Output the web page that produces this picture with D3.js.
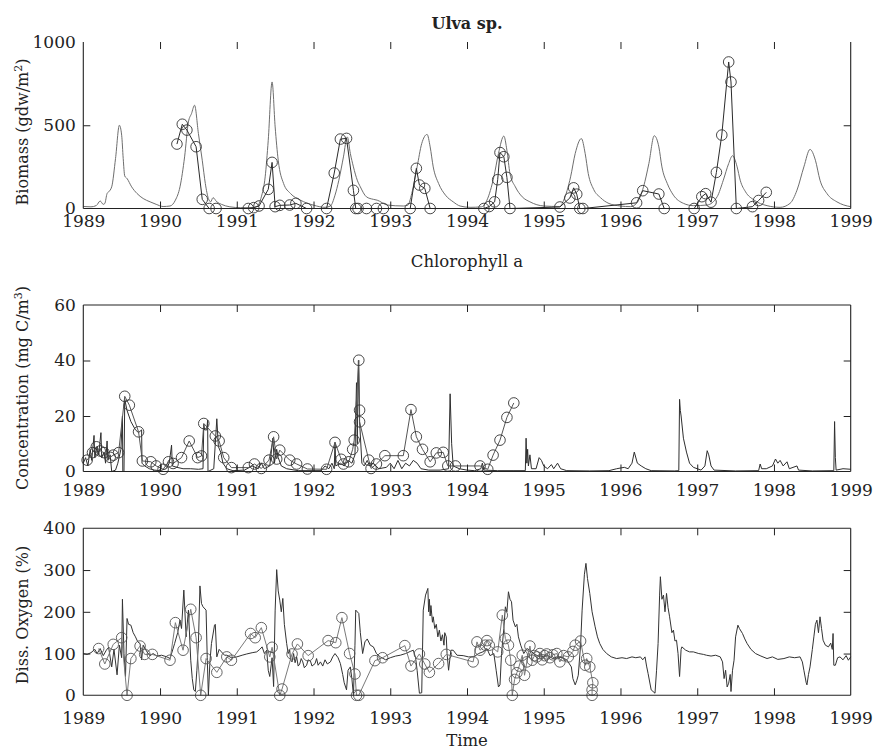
<!DOCTYPE html>
<html>
<head>
<meta charset="utf-8">
<script src="https://cdn.jsdelivr.net/npm/d3@7"></script>
<style>
  html, body { margin: 0; padding: 0; background: #fff; }
  svg text { font-family: "DejaVu Serif", "Liberation Serif", serif; fill: #222; }
</style>
</head>
<body>
<svg id="chart" width="874" height="755"></svg>
<script>
// ---------------- DATA ----------------
const years = [1989, 1990, 1991, 1992, 1993, 1994, 1995, 1996, 1997, 1998, 1999];
const panelTitles = ["Ulva sp.", "Chlorophyll a", "Time"];
const yLabels = ["Biomass (gdw/m", "Concentration (mg C/m", "Diss. Oxygen (%)"];
const biomassTicks = [0, 500, 1000];
const chlTicks = [0, 20, 40, 60];
const doTicks = [0, 100, 200, 300, 400];

// Panel 1: Ulva biomass, model (line) [year, gdw/m2]
const biomassModel = [
 [1989.00,12],[1989.10,10],[1989.17,18],[1989.22,45],[1989.26,25],[1989.28,30],[1989.31,90],[1989.33,100],
 [1989.37,130],[1989.42,300],[1989.47,500],[1989.50,440],[1989.52,300],[1989.54,195],[1989.57,180],[1989.63,130],
 [1989.70,90],[1989.78,60],[1989.87,40],[1989.95,25],[1990.04,12],[1990.13,15],[1990.20,50],[1990.26,130],
 [1990.32,310],[1990.37,520],[1990.41,570],[1990.45,620],[1990.50,450],[1990.55,290],[1990.59,150],[1990.63,60],
 [1990.66,40],[1990.69,65],[1990.74,40],[1990.80,25],[1990.91,10],[1991.05,5],[1991.20,5],[1991.27,15],
 [1991.32,70],[1991.37,190],[1991.41,410],[1991.46,760],[1991.50,490],[1991.54,290],[1991.61,150],[1991.70,90],
 [1991.83,50],[1992.00,20],[1992.15,7],[1992.22,15],[1992.28,80],[1992.33,170],[1992.39,310],[1992.44,430],
 [1992.48,330],[1992.52,250],[1992.57,170],[1992.61,130],[1992.69,70],[1992.78,55],[1992.83,50],[1992.96,21],
 [1993.17,15],[1993.23,20],[1993.28,90],[1993.35,250],[1993.41,390],[1993.48,445],[1993.52,370],[1993.56,250],
 [1993.63,150],[1993.72,80],[1993.82,40],[1993.91,15],[1994.04,7],[1994.19,10],[1994.26,50],[1994.35,190],
 [1994.41,330],[1994.48,435],[1994.52,350],[1994.56,210],[1994.63,130],[1994.72,70],[1994.82,40],[1995.00,15],
 [1995.21,12],[1995.26,50],[1995.35,190],[1995.41,330],[1995.49,420],[1995.54,330],[1995.58,210],[1995.65,115],
 [1995.74,65],[1995.85,30],[1996.00,15],[1996.13,11],[1996.21,31],[1996.30,130],[1996.37,270],[1996.44,437],
 [1996.50,370],[1996.54,250],[1996.61,150],[1996.69,80],[1996.82,31],[1996.95,17],[1997.13,21],[1997.26,71],
 [1997.34,170],[1997.41,270],[1997.46,317],[1997.52,250],[1997.56,170],[1997.63,100],[1997.74,51],[1997.91,17],
 [1998.08,7],[1998.21,31],[1998.30,110],[1998.39,250],[1998.47,355],[1998.54,290],[1998.60,170],[1998.69,90],
 [1998.82,40],[1998.91,21],[1999.00,11]
];
// Panel 1: observed biomass (circles)
const biomassObs = [
 [1990.22,387],[1990.29,506],[1990.35,471],[1990.47,371],[1990.55,55],[1990.64,0],[1990.73,0],[1991.15,0],
 [1991.22,5],[1991.29,15],[1991.41,115],[1991.46,277],[1991.50,11],[1991.56,19],[1991.69,21],[1991.77,31],
 [1991.91,0],[1992.17,0],[1992.27,213],[1992.35,417],[1992.43,421],[1992.52,109],[1992.55,0],[1992.58,0],
 [1992.69,0],[1992.82,0],[1992.91,0],[1993.26,0],[1993.34,241],[1993.38,141],[1993.45,121],[1993.52,0],
 [1994.22,0],[1994.29,12],[1994.36,40],[1994.40,173],[1994.43,336],[1994.48,311],[1994.52,187],[1994.56,0],
 [1995.21,9],[1995.34,63],[1995.39,124],[1995.43,86],[1995.47,0],[1995.51,0],[1996.21,34],[1996.29,107],
 [1996.50,87],[1996.57,0],[1996.96,0],[1997.06,71],[1997.11,89],[1997.18,38],[1997.25,217],[1997.32,441],
 [1997.41,880],[1997.44,760],[1997.51,0],[1997.72,11],[1997.80,48],[1997.90,97]
];

// Panel 2: chlorophyll a, model (line) [year, mg C/m3]
const chlModel = [
 [1989.00,3],[1989.03,5],[1989.06,2],[1989.09,8],[1989.11,4],[1989.14,13],[1989.15,5],[1989.18,9],[1989.20,6],
 [1989.23,14],[1989.24,5],[1989.27,7],[1989.29,3],[1989.31,11],[1989.32,4],[1989.35,6],[1989.37,0],[1989.42,0.5],
 [1989.45,3],[1989.49,8],[1989.51,20],[1989.515,0],[1989.53,0],[1989.54,26],[1989.57,22],[1989.62,18],[1989.68,15],
 [1989.72,14],[1989.76,15],[1989.765,3],[1989.80,2],[1989.86,1],[1989.93,0.5],[1990.00,0.3],[1990.08,1],[1990.12,3],
 [1990.15,9.5],[1990.16,2],[1990.22,1.5],[1990.30,1],[1990.40,1],[1990.50,0.8],[1990.56,1],[1990.57,17],[1990.58,15],
 [1990.61,15],[1990.62,18.5],[1990.625,0],[1990.70,1],[1990.74,19],[1990.76,9],[1990.79,7],[1990.82,3],[1990.87,1],
 [1990.95,0.3],[1991.10,0.5],[1991.20,2],[1991.28,1],[1991.32,3],[1991.36,1],[1991.43,2],[1991.47,12],[1991.49,3],
 [1991.52,8],[1991.54,5],[1991.58,2],[1991.65,1],[1991.80,0.3],[1992.10,0.3],[1992.15,2],[1992.20,1],[1992.24,3],
 [1992.27,1],[1992.28,10.5],[1992.29,2],[1992.35,3],[1992.40,2],[1992.45,4],[1992.50,3],[1992.54,6],[1992.56,32],
 [1992.57,10],[1992.585,40],[1992.60,18],[1992.63,3],[1992.66,2],[1992.70,4],[1992.73,2],[1992.78,3],[1992.85,1],
 [1992.95,1.5],[1993.00,3],[1993.05,1],[1993.10,4],[1993.15,1],[1993.20,3],[1993.25,2],[1993.30,4],[1993.35,3],
 [1993.40,1],[1993.50,0.5],[1993.65,0.5],[1993.76,1],[1993.78,28],[1993.80,10],[1993.82,2],[1993.90,1],[1994.00,0.5],
 [1994.10,0.3],[1994.18,1],[1994.20,3],[1994.22,0.5],[1994.40,0.3],[1994.60,0.3],[1994.76,0.3],[1994.77,12],
 [1994.78,3],[1994.79,8],[1994.80,2],[1994.82,6],[1994.84,1],[1994.90,1],[1994.94,5],[1994.97,4],[1995.00,2],
 [1995.05,1],[1995.10,2.5],[1995.13,1],[1995.18,3],[1995.22,1],[1995.30,0.3],[1995.60,0.2],[1995.85,0.3],[1995.95,1],
 [1996.05,1.5],[1996.10,1],[1996.15,3],[1996.18,7],[1996.22,3],[1996.27,2],[1996.33,1],[1996.40,0.3],[1996.70,0.2],
 [1996.76,0.3],[1996.77,26],[1996.78,22],[1996.79,20],[1996.82,12],[1996.86,7],[1996.90,3],[1996.95,1.5],[1997.05,0.5],
 [1997.10,2],[1997.13,7.5],[1997.15,6],[1997.18,2],[1997.22,0.5],[1997.50,0.2],[1997.80,0.3],[1997.82,2.7],[1997.84,1],
 [1997.90,1],[1997.98,2],[1998.02,4.5],[1998.05,3],[1998.08,4],[1998.12,2],[1998.17,3.5],[1998.20,1],[1998.30,2],
 [1998.32,0.5],[1998.50,0.2],[1998.78,0.3],[1998.79,18],[1998.80,5],[1998.81,0.5],[1998.90,1],[1999.00,0.8]
];
// Panel 2: observed chlorophyll a (circles)
const chlObs = [
 [1989.05,4.1],[1989.12,6.8],[1989.17,8.9],[1989.22,7.4],[1989.27,6.8],[1989.35,5.1],[1989.39,5.9],[1989.46,6.8],
 [1989.54,27.1],[1989.60,23.9],[1989.72,14.3],[1989.77,3.8],[1989.88,3.5],[1989.95,2.0],[1990.04,0.8],[1990.11,3.5],
 [1990.17,2.9],[1990.28,5.0],[1990.38,11.0],[1990.49,5.0],[1990.54,5.6],[1990.57,17.3],[1990.72,12.8],[1990.77,11],
 [1990.83,5],[1990.93,1.4],[1991.15,1.4],[1991.23,2.7],[1991.32,1.1],[1991.42,4.1],[1991.48,12.5],[1991.52,4.5],
 [1991.56,7.7],[1991.69,4.1],[1991.78,2.7],[1991.92,0.9],[1992.17,0.8],[1992.28,10.5],[1992.36,4.4],[1992.39,2.7],
 [1992.46,3.5],[1992.51,8.0],[1992.53,11.3],[1992.59,40.1],[1992.60,22.1],[1992.60,17.9],[1992.72,4.1],[1992.75,1.1],
 [1992.82,2.7],[1992.93,5.7],[1993.17,5.7],[1993.27,22.3],[1993.34,12.5],[1993.42,8],[1993.52,3.5],[1993.60,6.7],
 [1993.69,6.9],[1993.75,2.0],[1993.85,2.0],[1994.17,2.0],[1994.27,0.8],[1994.34,5.9],[1994.43,11.3],[1994.52,19.5],
 [1994.61,24.7]
];

// Panel 3: dissolved oxygen, model (line) [year, %]
const doModel = [
 [1989.00,100],[1989.05,98],[1989.10,102],[1989.15,110],[1989.18,100],[1989.22,112],[1989.26,95],[1989.30,108],
 [1989.33,115],[1989.37,68],[1989.40,110],[1989.44,49],[1989.47,120],[1989.50,90],[1989.51,230],[1989.53,100],
 [1989.55,45],[1989.57,184],[1989.59,170],[1989.62,168],[1989.65,150],[1989.68,140],[1989.71,128],[1989.74,124],
 [1989.76,85],[1989.78,120],[1989.83,104],[1989.87,95],[1989.91,100],[1989.96,94],[1990.02,96],[1990.09,92],
 [1990.13,88],[1990.19,124],[1990.23,150],[1990.26,180],[1990.28,160],[1990.31,252],[1990.34,140],[1990.37,204],
 [1990.40,84],[1990.42,40],[1990.44,13],[1990.46,9],[1990.48,60],[1990.50,124],[1990.52,262],[1990.54,220],
 [1990.56,212],[1990.60,204],[1990.615,90],[1990.63,0],[1990.65,80],[1990.67,124],[1990.71,168],[1990.72,170],
 [1990.74,92],[1990.77,110],[1990.80,104],[1990.84,96],[1990.87,96],[1990.93,90],[1991.00,92],[1991.07,96],
 [1991.13,99],[1991.20,102],[1991.26,104],[1991.30,110],[1991.33,116],[1991.36,100],[1991.39,108],[1991.41,60],
 [1991.43,45],[1991.46,90],[1991.48,21],[1991.50,204],[1991.52,301],[1991.54,250],[1991.56,228],[1991.58,200],
 [1991.60,232],[1991.62,170],[1991.65,124],[1991.67,100],[1991.69,108],[1991.70,85],[1991.72,80],[1991.74,100],
 [1991.76,78],[1991.78,92],[1991.80,70],[1991.82,75],[1991.84,88],[1991.86,80],[1991.88,66],[1991.91,72],
 [1991.93,85],[1991.96,82],[1991.98,70],[1992.02,76],[1992.04,88],[1992.06,72],[1992.09,80],[1992.12,70],
 [1992.15,85],[1992.18,75],[1992.22,80],[1992.25,92],[1992.28,100],
 [1992.32,90],[1992.35,76],[1992.38,50],[1992.40,30],[1992.43,13],[1992.45,60],[1992.48,68],[1992.50,40],
 [1992.52,0],[1992.54,120],[1992.55,204],[1992.59,196],[1992.61,150],[1992.64,100],[1992.67,128],[1992.70,135],
 [1992.74,120],[1992.78,116],[1992.82,100],[1992.87,92],[1992.94,85],[1993.00,90],[1993.07,94],[1993.13,96],
 [1993.20,100],[1993.26,105],[1993.30,108],[1993.33,90],[1993.35,60],[1993.38,5],[1993.41,6],[1993.43,204],
 [1993.46,240],[1993.49,256],[1993.50,200],[1993.51,230],[1993.52,190],[1993.53,215],[1993.55,175],[1993.56,188],
 [1993.58,160],[1993.60,170],[1993.62,140],[1993.64,156],[1993.66,130],[1993.68,145],[1993.70,120],[1993.71,150],
 [1993.73,140],[1993.74,100],[1993.76,60],[1993.79,108],[1993.82,108],[1993.87,96],[1993.95,95],[1994.02,92],
 [1994.09,92],[1994.15,100],[1994.22,105],[1994.26,112],[1994.30,95],[1994.35,100],[1994.38,60],[1994.41,20],
 [1994.43,25],[1994.45,100],[1994.48,160],[1994.50,212],[1994.52,200],[1994.54,248],[1994.56,230],[1994.58,224],
 [1994.60,180],[1994.63,164],[1994.65,170],[1994.67,140],[1994.70,120],[1994.74,100],[1994.78,112],[1994.82,108],
 [1994.88,98],[1994.96,92],[1995.05,95],[1995.12,88],[1995.17,92],[1995.24,90],[1995.30,85],[1995.36,68],
 [1995.38,40],[1995.41,25],[1995.43,35],[1995.45,48],[1995.48,120],[1995.50,204],[1995.53,290],[1995.55,316],
 [1995.57,280],[1995.60,244],[1995.63,200],[1995.67,164],[1995.70,140],[1995.73,124],[1995.77,110],[1995.82,100],
 [1995.88,92],[1995.95,88],[1996.02,90],[1996.08,88],[1996.15,92],[1996.20,90],[1996.26,92],[1996.29,85],
 [1996.32,92],[1996.34,70],[1996.36,52],[1996.40,13],[1996.45,5],[1996.47,60],[1996.49,124],[1996.51,240],
 [1996.52,284],[1996.54,230],[1996.56,240],[1996.58,200],[1996.60,244],[1996.62,210],[1996.64,188],[1996.67,150],
 [1996.69,156],[1996.71,130],[1996.73,132],[1996.75,100],[1996.77,45],[1996.79,110],[1996.80,116],[1996.85,108],
 [1996.90,104],[1996.95,104],[1997.02,100],[1997.08,98],[1997.12,96],[1997.18,94],[1997.24,96],[1997.30,92],
 [1997.33,80],[1997.35,40],[1997.37,60],[1997.39,20],[1997.41,29],[1997.43,50],[1997.44,9],[1997.46,60],
 [1997.48,84],[1997.50,140],[1997.53,168],[1997.55,160],[1997.59,148],[1997.62,135],[1997.65,124],[1997.70,110],
 [1997.76,100],[1997.83,94],[1997.91,88],[1997.98,92],[1998.05,86],[1998.13,88],[1998.20,92],[1998.27,90],
 [1998.34,92],[1998.37,80],[1998.39,60],[1998.42,30],[1998.43,25],[1998.45,50],[1998.47,68],[1998.50,110],
 [1998.52,140],[1998.54,170],[1998.56,180],[1998.58,150],[1998.60,188],[1998.62,160],[1998.64,132],[1998.67,120],
 [1998.71,116],[1998.74,125],[1998.76,110],[1998.77,148],[1998.78,72],[1998.80,72],[1998.83,90],[1998.86,92],
 [1998.90,85],[1998.94,95],[1998.97,84],[1999.00,92]
];
// Panel 3: observed dissolved oxygen (circles)
const doObs = [
 [1989.20,112],[1989.28,75],[1989.39,122],[1989.50,138],[1989.57,0],[1989.62,88],[1989.74,118],[1989.80,98],
 [1989.90,98],[1990.13,84],[1990.20,174],[1990.30,108],[1990.40,206],[1990.47,138],[1990.53,0],[1990.60,88],
 [1990.74,55],[1990.87,92],[1990.93,84],[1991.18,148],[1991.24,138],[1991.32,162],[1991.43,92],[1991.46,115],
 [1991.56,0],[1991.59,15],[1991.72,99],[1991.79,123],[1991.93,95],[1992.19,131],[1992.29,126],[1992.37,186],
 [1992.47,100],[1992.54,51],[1992.56,0],[1992.59,0],[1992.80,83],[1992.90,90],[1993.19,119],[1993.27,70],
 [1993.38,99],[1993.45,75],[1993.51,55],[1993.63,76],[1993.73,98],[1994.08,80],[1994.13,128],[1994.17,108],
 [1994.24,120],[1994.26,131],[1994.29,120],[1994.40,104],[1994.46,192],[1994.50,136],[1994.54,120],[1994.57,84],
 [1994.59,0],[1994.62,38],[1994.65,54],[1994.68,70],[1994.72,96],[1994.75,48],[1994.78,80],[1994.82,118],
 [1994.85,84],[1994.88,95],[1994.91,92],[1994.95,100],[1994.98,85],[1995.01,95],[1995.04,99],[1995.08,90],
 [1995.12,97],[1995.17,100],[1995.21,80],[1995.26,95],[1995.32,92],[1995.38,105],[1995.41,120],[1995.48,130],
 [1995.54,72],[1995.56,88],[1995.60,68],[1995.64,30],[1995.63,13],[1995.63,0]
];

// ---------------- DRAWING ----------------
const svg = d3.select("#chart");
const X0 = 83.3, X1 = 850.7;
const x = d3.scaleLinear().domain([1989, 1999]).range([X0, X1]);
const innerYears = years.slice(1, -1);

const panels = [
  { top: 42, bottom: 208.5, domain: [0, 1000], ticks: biomassTicks, model: biomassModel, obs: biomassObs,
    label: yLabels[0], sup: "2", labelY: 132, labelPad: 6.5, topLine: false, smooth: true,
    modelColor: "#6e6e6e", obsColor: "#2a2a2a", circleColor: "#333" },
  { top: 305, bottom: 471.5, domain: [0, 60], ticks: chlTicks, model: chlModel, obs: chlObs,
    label: yLabels[1], sup: "3", labelY: 388, labelPad: 12.5, topLine: true, smooth: false,
    modelColor: "#2e2e2e", obsColor: "#555", circleColor: "#333" },
  { top: 528.3, bottom: 695.3, domain: [0, 400], ticks: doTicks, model: doModel, obs: doObs,
    label: yLabels[2], sup: null, labelY: 615, labelPad: 16.5, topLine: true, smooth: false,
    modelColor: "#333", obsColor: "#7a7a7a", circleColor: "#555" }
];

panels.forEach((p, i) => {
  const y = d3.scaleLinear().domain(p.domain).range([p.bottom, p.top]);
  const g = svg.append("g");
  const innerTicks = p.ticks.slice(1, -1);

  // model line
  const modelLine = d3.line().x(d => x(d[0])).y(d => y(d[1]));
  if (p.smooth) modelLine.curve(d3.curveMonotoneX);
  g.append("path")
    .datum(p.model)
    .attr("fill", "none")
    .attr("stroke", p.modelColor)
    .attr("stroke-width", 1)
    .attr("stroke-linejoin", "round")
    .attr("d", modelLine);

  // observation line
  g.append("path")
    .datum(p.obs)
    .attr("fill", "none")
    .attr("stroke", p.obsColor)
    .attr("stroke-width", 1)
    .attr("d", d3.line().x(d => x(d[0])).y(d => y(d[1])));

  // circles
  g.selectAll("circle.obs").data(p.obs).enter().append("circle")
    .attr("class", "obs")
    .attr("cx", d => x(d[0]))
    .attr("cy", d => y(d[1]))
    .attr("r", 5.3)
    .attr("fill", "none")
    .attr("stroke", p.circleColor)
    .attr("stroke-width", 0.9);

  // bottom axis with labels (ticks inward)
  const bx = g.append("g").attr("transform", `translate(0,${p.bottom})`)
    .call(d3.axisBottom(x).tickValues(years).tickFormat(d3.format("d"))
      .tickSizeInner(-7).tickSizeOuter(0).tickPadding(p.labelPad));
  bx.select(".domain").remove();
  bx.selectAll(".tick line").filter(d => d === 1989 || d === 1999).remove();
  // top ticks
  const tx = g.append("g").attr("transform", `translate(0,${p.top})`)
    .call(d3.axisTop(x).tickValues(innerYears).tickFormat("").tickSizeInner(-7).tickSizeOuter(0));
  tx.select(".domain").remove();
  // left axis
  const ly = g.append("g").attr("transform", `translate(${X0},0)`)
    .call(d3.axisLeft(y).tickValues(p.ticks).tickFormat(d3.format("d"))
      .tickSizeInner(-7).tickSizeOuter(0).tickPadding(7.5));
  ly.select(".domain").remove();
  ly.selectAll(".tick line").filter(d => d === p.ticks[0] || d === p.ticks[p.ticks.length - 1]).remove();
  // right ticks
  const ry = g.append("g").attr("transform", `translate(${X1},0)`)
    .call(d3.axisRight(y).tickValues(innerTicks).tickFormat("").tickSizeInner(-7).tickSizeOuter(0));
  ry.select(".domain").remove();

  g.selectAll(".tick line").attr("stroke", "#222").attr("stroke-width", 1);
  g.selectAll(".tick text")
    .style("font-family", "'DejaVu Serif', serif")
    .style("font-size", "17px")
    .attr("fill", "#222");

  // frame
  const frame = [
    [[X0, p.bottom], [X1, p.bottom]],
    [[X0, p.top], [X0, p.bottom]],
    [[X1, p.top], [X1, p.bottom]]
  ];
  if (p.topLine) frame.push([[X0, p.top], [X1, p.top]]);
  g.selectAll("line.frame").data(frame).enter().append("line")
    .attr("class", "frame")
    .attr("x1", d => d[0][0]).attr("y1", d => d[0][1])
    .attr("x2", d => d[1][0]).attr("y2", d => d[1][1])
    .attr("stroke", "#222").attr("stroke-width", 1.1);

  // y label
  const yl = svg.append("text")
    .attr("transform", `translate(28,${p.labelY}) rotate(-90)`)
    .attr("text-anchor", "middle")
    .style("font-size", "16px");
  yl.append("tspan").text(p.label);
  if (p.sup) {
    yl.append("tspan").attr("dy", -6).style("font-size", "11px").text(p.sup);
    yl.append("tspan").attr("dy", 6).text(")");
  }
});

// titles
svg.append("text").attr("x", 467).attr("y", 29).attr("text-anchor", "middle")
  .style("font-size", "16px").style("font-weight", "bold").text(panelTitles[0]);
svg.append("text").attr("x", 467).attr("y", 266.5).attr("text-anchor", "middle")
  .style("font-size", "16.5px").text(panelTitles[1]);
svg.append("text").attr("x", 467).attr("y", 746).attr("text-anchor", "middle")
  .style("font-size", "16.5px").text(panelTitles[2]);
</script>
</body>
</html>
